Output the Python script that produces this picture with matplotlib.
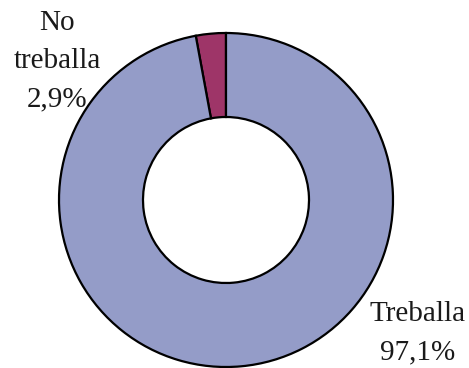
import matplotlib.pyplot as plt

labels = ['No\ntreballa', 'Treballa']
values = [2.9, 97.1]
colors = ['#9E3568', '#949CC8']

W, H = 469, 368
fig = plt.figure(figsize=(W / 100, H / 100), dpi=100)
ax = fig.add_axes([0, 0, 1, 1])

wedges, _ = ax.pie(values, colors=colors, startangle=90, counterclock=True,
                   center=(226, H - 200), radius=167, frame=True,
                   wedgeprops=dict(width=84, edgecolor='black', linewidth=1.6))
ax.set_xlim(0, W)
ax.set_ylim(0, H)
ax.set_aspect('equal')
ax.axis('off')

font = dict(family=['Liberation Serif', 'DejaVu Serif'], fontsize=21,
            color='#1a1a1a', ha='center', va='center', linespacing=1.6)
ax.text(57, H - 61, f'{labels[0]}\n{values[0]:.1f}%'.replace('.', ','), **font)
ax.text(418, H - 333, f'{labels[1]}\n{values[1]:.1f}%'.replace('.', ','), **font)

fig.savefig('out.png', dpi=100)
